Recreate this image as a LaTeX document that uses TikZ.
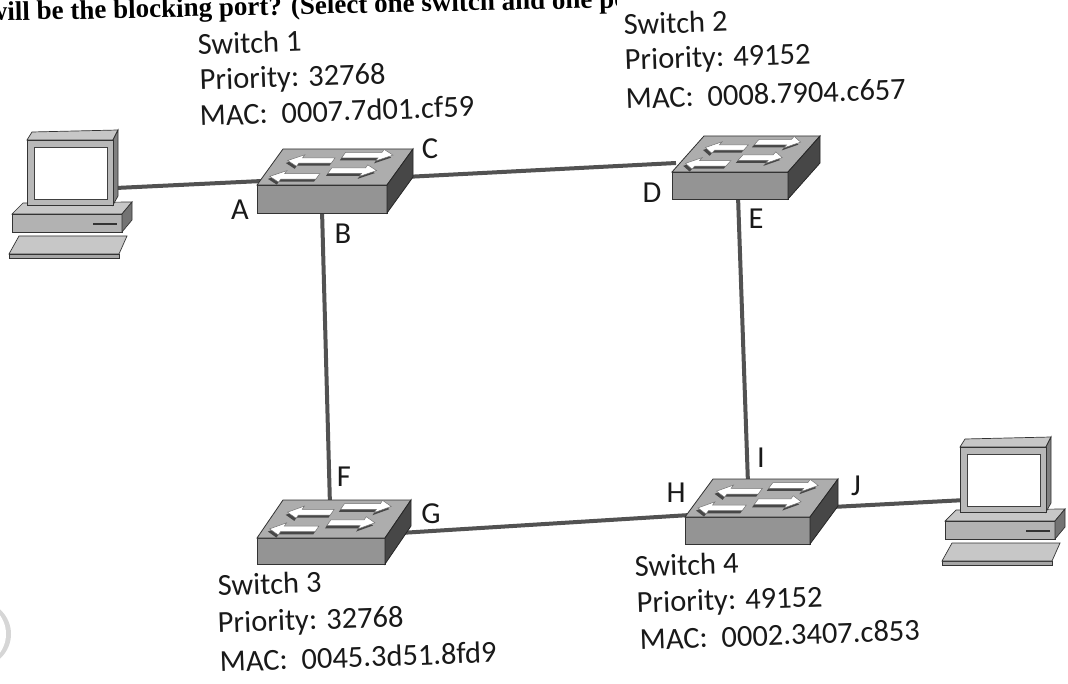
\documentclass[tikz,border=0pt]{standalone}
\usepackage{fontspec}
\setmainfont{Carlito}
\newfontfamily\qfont{Liberation Serif}
\newcommand\swpoly[4]{%
  \pgfmathsetmacro\aHL{(#2>#1) ? (#2-0.1) : (#2+0.1)}%
  \path[#4] ({#1},{#3-0.075}) -- (\aHL,{#3-0.075}) -- (\aHL,{#3-0.16}) -- ({#2},{#3}) -- (\aHL,{#3+0.16}) -- (\aHL,{#3+0.075}) -- ({#1},{#3+0.075}) -- cycle;}
\newcommand\swarr[3]{\swpoly{#1}{#2}{#3-0.07}{fill=black!72}\swpoly{#1}{#2}{#3}{fill=white,draw=black!55,line width=0.5pt}}
\tikzset{
  pics/netswitch/.style n args={4}{code={
    \filldraw[fill=black!42, draw=black!80, line width=0.8pt] (0,0) rectangle (#1,#2);
    \filldraw[fill=black!32, draw=black!80, line width=0.8pt] (0,0) -- (#3,-#4) -- ({#1+#3},-#4) -- (#1,0) -- cycle;
    \filldraw[fill=black!72, draw=black!85, line width=0.8pt] (#1,0) -- ({#1+#3},-#4) -- ({#1+#3},{#2-#4}) -- (#1,#2) -- cycle;
    \begin{scope}[cm={#1,0,-#3,-#4,(0,0)}]
      \swarr{0.45}{0.10}{0.68}
      \swarr{0.50}{0.88}{0.83}
      \swarr{0.42}{0.05}{0.24}
      \swarr{0.48}{0.84}{0.40}
    \end{scope}
  }},
  pics/pcstation/.style={code={
    % keyboard
    \filldraw[fill=black!35, draw=black!80, line width=0.7pt] (-18,114) -- (92,114) -- (92,118) -- (-18,118) -- cycle;
    \filldraw[fill=black!22, draw=black!80, line width=0.7pt] (-8,96) -- (100,96) -- (92,114) -- (-18,114) -- cycle;
    % base unit
    \filldraw[fill=black!22, draw=black!80, line width=0.7pt] (-15,74) -- (-4,63) -- (105,62) -- (95,74) -- cycle;
    \filldraw[fill=black!30, draw=black!80, line width=0.7pt] (-15,74) rectangle (95,92);
    \filldraw[fill=black!55, draw=black!80, line width=0.7pt] (95,74) -- (105,62) -- (105,80) -- (95,92) -- cycle;
    \draw[black!80, line width=1.2pt] (66,84) -- (90,84);
    % monitor
    \filldraw[fill=black!22, draw=black!80, line width=0.7pt] (0,0) -- (5,-8) -- (91,-10) -- (86,0) -- cycle;
    \filldraw[fill=black!50, draw=black!80, line width=0.7pt] (86,0) -- (91,-10) -- (91,56) -- (86,65) -- cycle;
    \filldraw[fill=black!28, draw=black!80, line width=0.7pt] (0,0) rectangle (86,65);
    \filldraw[fill=white, draw=black!75, line width=0.8pt] (7,7) rectangle (80,59);
  }},
  txt/.style={font=\fontsize{30.5}{36}\selectfont, inner sep=0pt, text=black!90},
  info/.style={txt, anchor=base west, rotate=2},
  port/.style={txt, anchor=center},
  cable/.style={line width=4pt, draw=black!68},
}
\begin{document}
\begin{tikzpicture}[x=1pt,y=-1pt]
\useasboundingbox (0,0) rectangle (1068,684);
\fill[white] (0,0) rectangle (1068,684);

% hole-punch shadow at left edge
\begin{scope}
  \clip (0,0) rectangle (1068,684);
  \fill[black!16] (-22,634) circle (33);
  \fill[white] (-26,634) circle (32);
\end{scope}

% question line, partly hidden by the pasted diagram
\begin{scope}
  \clip (0,0) rectangle (616,60);
  \node[anchor=base west, inner sep=0pt, rotate=1.2, font=\qfont\bfseries\fontsize{27}{30}\selectfont] (question) at (-12,21) {will be the blocking port? (Select one switch and one port)};
\end{scope}

% cable end points
\coordinate (pc1p) at (116,188);
\coordinate (s1a) at (262,181);
\coordinate (s1c) at (405,177);
\coordinate (s2d) at (676,163);
\coordinate (s1b) at (322,210);
\coordinate (s3f) at (330,506);
\coordinate (s2e) at (738,196);
\coordinate (s4i) at (748,484);
\coordinate (s3g) at (400,533);
\coordinate (s4h) at (690,515);
\coordinate (s4j) at (832,507);
\coordinate (pc2p) at (966,500);

% cables
\draw[cable] (pc1p) -- (s1a);
\draw[cable] (s1c) -- (s2d);
\draw[cable] (s1b) -- (s3f);
\draw[cable] (s2e) -- (s4i);
\draw[cable] (s3g) -- (s4h);
\draw[cable] (s4j) -- (pc2p);

% devices
\pic at (27,140) {pcstation};
\pic at (960,447) {pcstation};
\pic at (257,185) {netswitch={130}{28}{26}{36}};
\pic at (672,172) {netswitch={116}{27}{32}{36}};
\pic at (257,538) {netswitch={128}{26}{26}{38}};
\pic at (685,517) {netswitch={125}{27}{28}{38}};

% port labels
\node[port] (pA) at (240,210) {A};
\node[port] (pB) at (343,234) {B};
\node[port] (pC) at (430,149) {C};
\node[port] (pD) at (652,193) {D};
\node[port] (pE) at (756,219) {E};
\node[port] (pF) at (344,477) {F};
\node[port] (pG) at (431,514) {G};
\node[port] (pH) at (676,493) {H};
\node[port] (pI) at (761,458) {I};
\node[port] (pJ) at (856,486) {J};

% switch information
\node[info] (s1n) at (198,55) {Switch 1};
\node[info] (s1p) at (200,90) {Priority: 32768};
\node[info] (s1m) at (200,126) {MAC:\ \ 0007.7d01.cf59};

\node[info] (s2n) at (624,35) {Switch 2};
\node[info] (s2p) at (625,70) {Priority: 49152};
\node[info] (s2m) at (626,109) {MAC:\ \ 0008.7904.c657};

\node[info] (s3n) at (218,596) {Switch 3};
\node[info] (s3p) at (218,633) {Priority: 32768};
\node[info] (s3m) at (220,672) {MAC:\ \ 0045.3d51.8fd9};

\node[info] (s4n) at (635,577) {Switch 4};
\node[info] (s4p) at (637,613) {Priority: 49152};
\node[info] (s4m) at (640,650) {MAC:\ \ 0002.3407.c853};
\end{tikzpicture}
\end{document}
